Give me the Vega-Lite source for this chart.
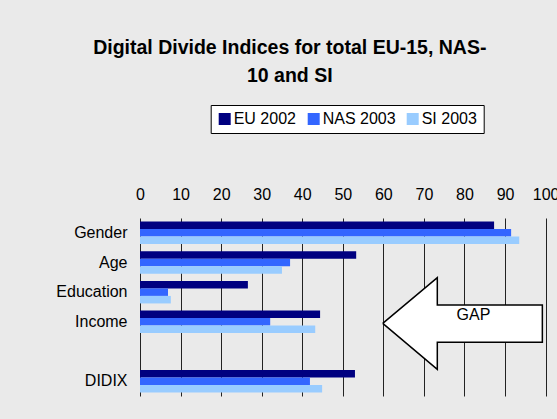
{
  "$schema": "https://vega.github.io/schema/vega-lite/v6.json",
  "width": 405.6,
  "height": 178,
  "autosize": {"type": "none"},
  "padding": {"left": 140, "top": 218, "right": 11.4, "bottom": 23},
  "background": "#eaeaea",
  "config": {
    "font": "Liberation Sans",
    "view": {"stroke": null}
  },
  "title": {
    "text": ["Digital Divide Indices for total EU-15, NAS-", "10 and SI"],
    "fontSize": 19.5,
    "fontWeight": "bold",
    "color": "#000000",
    "lineHeight": 28,
    "anchor": "middle",
    "dx": -53,
    "offset": 18
  },
  "datasets": {
    "bars": [
      {"category": "Gender", "series": "EU 2002", "value": 87.3},
      {"category": "Gender", "series": "NAS 2003", "value": 91.5},
      {"category": "Gender", "series": "SI 2003", "value": 93.5},
      {"category": "Age", "series": "EU 2002", "value": 53.3},
      {"category": "Age", "series": "NAS 2003", "value": 37.0},
      {"category": "Age", "series": "SI 2003", "value": 35.0},
      {"category": "Education", "series": "EU 2002", "value": 26.6},
      {"category": "Education", "series": "NAS 2003", "value": 6.9},
      {"category": "Education", "series": "SI 2003", "value": 7.6},
      {"category": "Income", "series": "EU 2002", "value": 44.4},
      {"category": "Income", "series": "NAS 2003", "value": 32.1},
      {"category": "Income", "series": "SI 2003", "value": 43.2},
      {"category": "DIDIX", "series": "EU 2002", "value": 53.0},
      {"category": "DIDIX", "series": "NAS 2003", "value": 41.9},
      {"category": "DIDIX", "series": "SI 2003", "value": 44.9}
    ],
    "arrow": [
      {"i": 0, "ax": 59.85, "ay": 3.55},
      {"i": 1, "ax": 73.3, "ay": 2.01},
      {"i": 2, "ax": 73.3, "ay": 2.93},
      {"i": 3, "ax": 99.2, "ay": 2.93},
      {"i": 4, "ax": 99.2, "ay": 4.19},
      {"i": 5, "ax": 73.3, "ay": 4.19},
      {"i": 6, "ax": 73.3, "ay": 5.10},
      {"i": 7, "ax": 59.85, "ay": 3.55}
    ],
    "label": [
      {"ax": 82.2, "ay": 3.27, "text": "GAP"}
    ]
  },
  "layer": [
    {
      "data": {"name": "bars"},
      "mark": {"type": "bar"},
      "encoding": {
        "y": {
          "field": "category",
          "type": "nominal",
          "scale": {"domain": ["Gender", "Age", "Education", "Income", " ", "DIDIX"], "paddingInner": 0.24, "paddingOuter": 0.12},
          "axis": {"title": null, "ticks": false, "domain": false, "labelFontSize": 16, "labelColor": "#000000", "labelPadding": 13}
        },
        "x": {
          "field": "value",
          "type": "quantitative",
          "scale": {"domain": [0, 100], "nice": false},
          "axis": {
            "orient": "top", "title": null, "values": [0,10,20,30,40,50,60,70,80,90,100],
            "ticks": false, "domain": false, "labelFontSize": 16, "labelColor": "#000000",
            "labelFlush": false, "labelOverlap": false, "labelBound": false,
            "labelPadding": 16, "grid": true, "gridColor": "#000000", "gridOpacity": 0.85, "gridWidth": 1
          }
        },
        "yOffset": {"field": "series", "type": "nominal", "scale": {"paddingInner": 0, "paddingOuter": 0}},
        "color": {
          "field": "series",
          "type": "nominal",
          "scale": {"domain": ["EU 2002", "NAS 2003", "SI 2003"], "range": ["#000080", "#3366ff", "#99ccff"]},
          "legend": {
            "title": null,
            "orient": "none",
            "direction": "horizontal",
            "legendX": 70.7,
            "legendY": -113,
            "fillColor": "#ffffff",
            "strokeColor": "#000000",
            "padding": 6,
            "labelFontSize": 16,
            "labelColor": "#000000",
            "labelLimit": 200,
            "labelOffset": 1,
            "symbolType": "square",
            "symbolSize": 144,
            "symbolStrokeWidth": 0,
            "columnPadding": 9
          }
        }
      }
    },
    {
      "data": {"name": "arrow"},
      "mark": {"type": "line", "fill": "#ffffff", "stroke": "#000000", "strokeWidth": 1.5, "strokeJoin": "miter"},
      "encoding": {
        "x": {"field": "ax", "type": "quantitative"},
        "y": {"field": "ay", "type": "quantitative", "scale": {"domain": [0, 6], "reverse": true, "nice": false, "zero": false}, "axis": null},
        "order": {"field": "i", "type": "quantitative"}
      }
    },
    {
      "data": {"name": "label"},
      "mark": {"type": "text", "fontSize": 16, "color": "#000000", "baseline": "middle", "align": "center"},
      "encoding": {
        "x": {"field": "ax", "type": "quantitative"},
        "y": {"field": "ay", "type": "quantitative", "scale": {"domain": [0, 6], "reverse": true, "nice": false, "zero": false}, "axis": null},
        "text": {"field": "text"}
      }
    }
  ],
  "resolve": {"scale": {"y": "independent"}}
}
